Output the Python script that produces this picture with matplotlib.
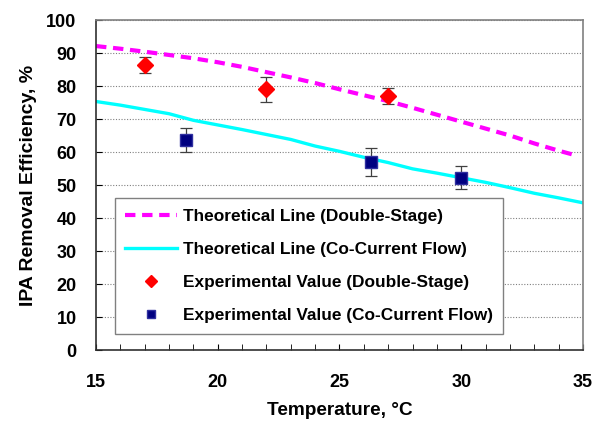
import numpy as np
import matplotlib
matplotlib.use('Agg')
import matplotlib.pyplot as plt

plt.rcParams['font.family'] = ['Liberation Sans', 'DejaVu Sans']

# theoretical curves
t_ds = [15, 16, 17, 18, 19, 20, 21, 22, 23, 24, 25, 26, 27, 28, 29, 30, 31, 32, 33, 34, 34.6]
e_ds = [92.1, 91.3, 90.4, 89.4, 88.4, 87.2, 85.8, 84.2, 82.6, 80.9, 79.0, 77.2, 75.4,
        73.4, 71.3, 69.2, 67.1, 65.0, 62.6, 60.4, 59.2]
t_cc = [15, 16, 17, 18, 19, 20, 21, 22, 23, 24, 25, 26, 27, 28, 29, 30, 31, 32, 33, 34, 35]
e_cc = [75.3, 74.2, 72.9, 71.6, 69.6, 68.2, 66.8, 65.3, 63.8, 61.8, 60.2, 58.4, 56.8,
        54.9, 53.6, 52.2, 50.8, 49.2, 47.5, 46.1, 44.6]

# experimental points
x_ds = [17, 22, 27]
y_ds = [86.3, 79.0, 77.0]
err_ds = [2.5, 3.8, 2.5]
x_cc = [18.7, 26.3, 30.0]
y_cc = [63.6, 56.9, 52.2]
err_cc = [3.6, 4.3, 3.5]

fig = plt.figure(figsize=(6.02, 4.22), dpi=100)
ax = fig.add_axes([0.1595, 0.1706, 0.8089, 0.782])

ax.plot(t_ds, e_ds, color='#ff00ff', lw=3, ls=(0, (2.5, 1.6)), label='Theoretical Line (Double-Stage)')
ax.plot(t_cc, e_cc, color='#00ffff', lw=2.4, label='Theoretical Line (Co-Current Flow)')
ax.errorbar(x_ds, y_ds, yerr=err_ds, fmt='none', ecolor='#404040',
            elinewidth=0.9, capsize=4, capthick=0.9)
ax.errorbar(x_cc, y_cc, yerr=err_cc, fmt='none', ecolor='#404040',
            elinewidth=0.9, capsize=4, capthick=0.9)
ax.plot(x_ds, y_ds, 'D', color='red', ms=8, mec='red', ls='none',
        label='Experimental Value (Double-Stage)')
ax.plot(x_cc, y_cc, 's', color='#000080', ms=8.5, mec='#3030a0', ls='none',
        label='Experimental Value (Co-Current Flow)')

ax.set_xlim(15, 35)
ax.set_ylim(0, 100)
ax.set_xticks([15, 20, 25, 30, 35])
ax.set_xticks(np.arange(15, 36, 1), minor=True)
ax.set_yticks(np.arange(0, 101, 10))
ax.tick_params(axis='x', which='both', direction='in', length=4, pad=17, labelsize=13)
ax.tick_params(axis='y', direction='in', length=4, pad=14, labelsize=13)
for lbl in ax.get_xticklabels() + ax.get_yticklabels():
    lbl.set_fontweight('bold')
ax.yaxis.grid(True, ls=(0, (1, 1.5)), color='#808080', lw=0.8)
ax.set_axisbelow(True)
for s in ax.spines.values():
    s.set_color('#808080')
    s.set_linewidth(1.2)
ax.spines['bottom'].set_color('#303030')
ax.spines['left'].set_color('#303030')

ax.set_xlabel('Temperature, °C', fontsize=13.7, fontweight='bold', labelpad=8)
ax.set_ylabel('IPA Removal Efficiency, %', fontsize=14, fontweight='bold', labelpad=7)

leg = ax.legend(loc='lower left', bbox_to_anchor=(0.038, 0.05),
                prop={'weight': 'bold', 'size': 12.4}, frameon=True, fancybox=False,
                edgecolor='#808080', framealpha=1, handlelength=3.0, handletextpad=0.35,
                labelspacing=1.05, borderpad=0.6, markerscale=0.75, borderaxespad=0)
leg.get_frame().set_linewidth(1)

fig.savefig('out.png', dpi=100)
